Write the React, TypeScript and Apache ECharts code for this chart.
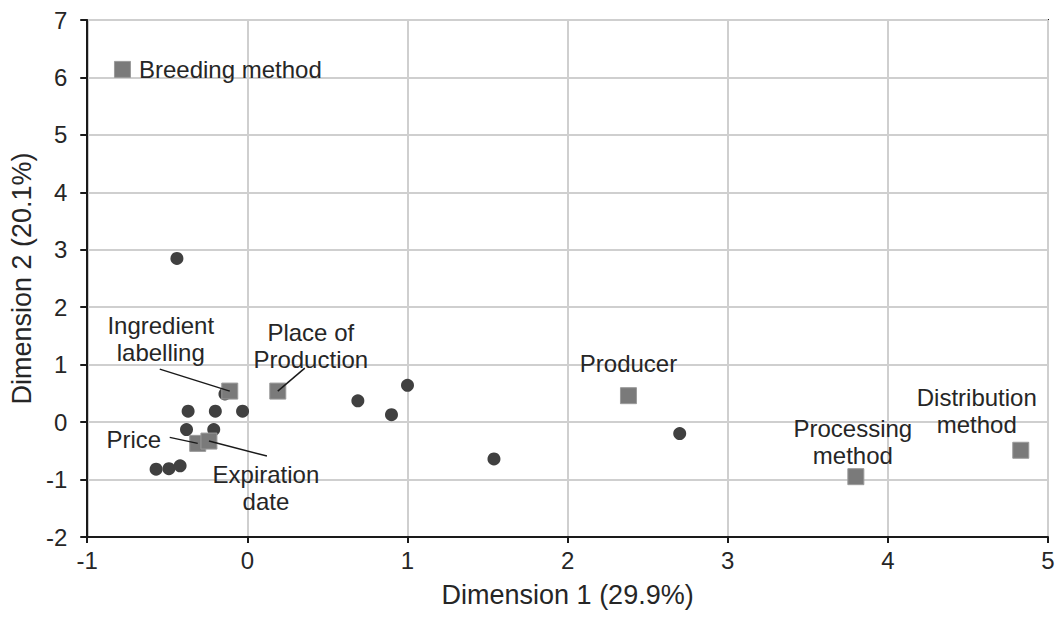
import React, { useEffect, useRef } from "react";
import * as echarts from "echarts";

// Observations (dark circles)
const obsX = [-0.14, -0.37, -0.20, -0.03, -0.38, -0.21, -0.57, -0.49, -0.42, -0.44, 0.69, 0.90, 1.00, 1.54, 2.70];
const obsY = [0.49, 0.19, 0.19, 0.19, -0.13, -0.13, -0.82, -0.81, -0.76, 2.85, 0.37, 0.13, 0.64, -0.64, -0.20];

// Attributes (grey squares)
const attrNames = [
  "Breeding method",
  "Ingredient\nlabelling",
  "Place of\nProduction",
  "Price",
  "Expiration\ndate",
  "Producer",
  "Processing\nmethod",
  "Distribution\nmethod",
];
const attrX = [-0.78, -0.11, 0.19, -0.31, -0.24, 2.38, 3.80, 4.83];
const attrY = [6.14, 0.54, 0.54, -0.37, -0.33, 0.46, -0.95, -0.49];

const xTicks = { min: -1, max: 5, interval: 1 };
const yTicks = { min: -2, max: 7, interval: 1 };
const xTitle = "Dimension 1 (29.9%)";
const yTitle = "Dimension 2 (20.1%)";

// label placement (layout only, pixels relative to the marker)
const labelOffsets: Array<[number, number]> = [
  [0, 0],
  [-69, -52],
  [33, -45],
  [-64, -4],
  [57, 47],
  [0, -32],
  [-3, -35],
  [-44, -39],
];
// leader lines (pixels relative to the marker): [x1, y1, x2, y2]
const leaderOffsets: Array<[number, number, number, number] | null> = [
  null,
  [-70, -22, 0, 0],
  [27, -23, 0, 0],
  [-28, -6, 0, 0],
  [0, 0, 58, 15],
  null,
  null,
  null,
];

const FONT = "'Liberation Sans', Arial, sans-serif";
const TXT = "#262626";

export default function App() {
  const ref = useRef<HTMLDivElement>(null);
  useEffect(() => {
    if (!ref.current) return;
    const chart = echarts.init(ref.current, undefined, { renderer: "svg" });
    const obsData = obsX.map((x, i) => [x, obsY[i]]);
    const attrData = attrNames.map((n, i) => ({
      value: [attrX[i], attrY[i]],
      name: n,
      label:
        i === 0
          ? { position: "right", distance: 8, align: "left" }
          : { position: "inside", align: "center", verticalAlign: "middle" },
    }));
    chart.setOption({
      animation: false,
      grid: {
        left: 87,
        top: 20,
        right: 14,
        bottom: 80,
        show: true,
        borderColor: "#1a1a1a",
        borderWidth: 2,
      },
      xAxis: {
        type: "value",
        min: xTicks.min,
        max: xTicks.max,
        interval: xTicks.interval,
        name: xTitle,
        nameLocation: "middle",
        nameGap: 44,
        nameTextStyle: { fontSize: 27, color: TXT, fontFamily: FONT },
        axisLine: { show: true, onZero: false, lineStyle: { color: "#1a1a1a", width: 2 } },
        axisTick: { show: true, inside: false, length: 6, lineStyle: { color: "#1a1a1a", width: 2 } },
        axisLabel: { fontSize: 24, color: TXT, fontFamily: FONT, margin: 11, formatter: (v: number) => `${v}` },
        splitLine: { show: true, lineStyle: { color: "#cfcfcf", width: 2 } },
      },
      yAxis: {
        type: "value",
        min: yTicks.min,
        max: yTicks.max,
        interval: yTicks.interval,
        name: yTitle,
        nameLocation: "middle",
        nameGap: 49,
        nameRotate: 90,
        nameTextStyle: { fontSize: 27, color: TXT, fontFamily: FONT },
        axisLine: { show: true, onZero: false, lineStyle: { color: "#1a1a1a", width: 2 } },
        axisTick: { show: true, inside: false, length: 7, lineStyle: { color: "#1a1a1a", width: 2 } },
        axisLabel: { fontSize: 24, color: TXT, fontFamily: FONT, margin: 20, formatter: (v: number) => `${v}` },
        splitLine: { show: true, lineStyle: { color: "#cfcfcf", width: 2 } },
      },
      series: [
        {
          type: "scatter",
          data: obsData,
          symbol: "circle",
          symbolSize: 13,
          itemStyle: { color: "#404040", opacity: 1 },
          silent: true,
          z: 2,
        },
        {
          type: "scatter",
          data: attrData,
          symbol: "rect",
          symbolSize: 16,
          itemStyle: { color: "#7a7a7a", borderColor: "#9a9a9a", borderWidth: 1, opacity: 1 },
          label: {
            show: true,
            formatter: (p: any) => p.name,
            fontSize: 24,
            lineHeight: 27,
            color: TXT,
            fontFamily: FONT,
          },
          labelLayout: (p: any) => {
            const o = labelOffsets[p.dataIndex] || [0, 0];
            return { dx: o[0], dy: o[1] };
          },
          z: 3,
        },
      ],
    });
    const lines: any[] = [];
    attrX.forEach((x, i) => {
      const lo = leaderOffsets[i];
      if (!lo) return;
      const p = chart.convertToPixel({ gridIndex: 0 }, [x, attrY[i]]) as number[];
      lines.push({
        type: "line",
        z: 10,
        shape: { x1: p[0] + lo[0], y1: p[1] + lo[1], x2: p[0] + lo[2], y2: p[1] + lo[3] },
        style: { stroke: "#1a1a1a", lineWidth: 1.5 },
        silent: true,
      });
    });
    chart.setOption({ graphic: lines });
    return () => chart.dispose();
  }, []);
  return (
    <div
      ref={ref}
      style={{ position: "absolute", left: 0, top: 0, width: 1062, height: 617, background: "#fff" }}
    />
  );
}
